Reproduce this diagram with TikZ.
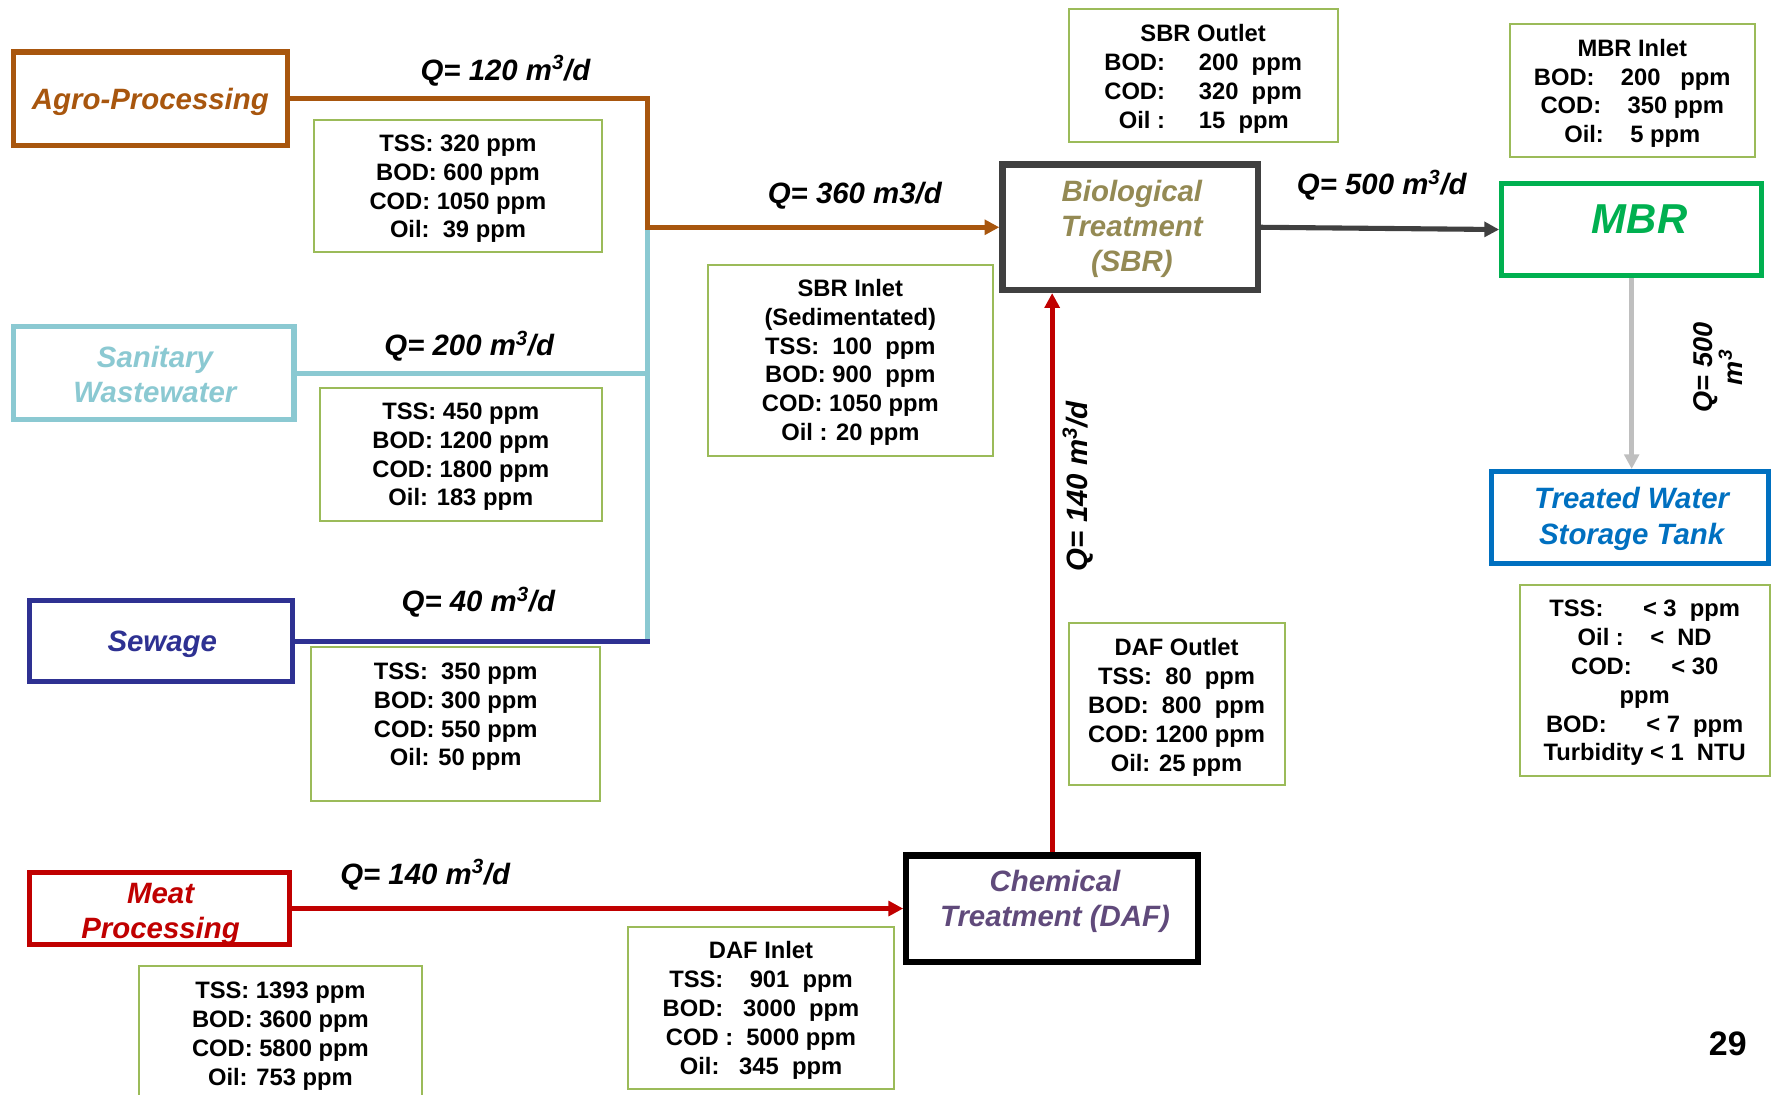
\documentclass[tikz,border=0pt]{standalone}
\usepackage{fontspec}
\setmainfont{Liberation Sans}
\usetikzlibrary{arrows.meta}
\pgfdeclarelayer{background}
\pgfdeclarelayer{lines}
\pgfsetlayers{background,lines,main}
\definecolor{cbrown}{RGB}{168,86,14}
\definecolor{csan}{RGB}{139,201,210}
\definecolor{cnavy}{RGB}{46,49,146}
\definecolor{cred}{RGB}{192,0,0}
\definecolor{colive}{RGB}{148,138,84}
\definecolor{cdark}{RGB}{64,64,64}
\definecolor{cpurple}{RGB}{96,74,123}
\definecolor{cgreen}{RGB}{0,176,80}
\definecolor{cblueb}{RGB}{0,112,192}
\definecolor{cgrayarr}{RGB}{191,191,191}
\definecolor{specgreen}{RGB}{155,187,89}
\newcommand\specfnt{\fontsize{21}{25.5}\selectfont\bfseries}
\newcommand\titlefnt{\fontsize{26}{31}\selectfont\bfseries\itshape}
\newcommand\qfnt{\fontsize{26}{31}\selectfont\bfseries\itshape}
\newcommand\mbrfnt{\fontsize{37}{40}\selectfont\bfseries\itshape}
\tikzset{
  srcbox/.style={draw, line width=4.5pt, inner sep=0pt},
  titletext/.style={inner sep=0pt, align=center, font=\titlefnt},
  specbox/.style={draw=specgreen, line width=1.8pt, inner sep=0pt},
  spectext/.style={inner sep=0pt, align=center, font=\specfnt},
  qlab/.style={inner sep=0pt, align=center, font=\qfnt},
  flow/.style={line width=4.5pt},
  tip/.style={-{Triangle[length=13pt,width=13pt]}}
}
\begin{document}
\begin{tikzpicture}[x=1pt,y=-1pt]
\begin{pgfonlayer}{background}
\fill[white] (0,0) rectangle (1568,968);
\end{pgfonlayer}
\useasboundingbox (0,0) rectangle (1568,968);

% main process boxes
\node[srcbox, draw=cbrown, minimum width=242pt, minimum height=83pt] (agro) at (133,87.5) {};
\node[titletext, text=cbrown] (agrotxt) at (133,90.5) {Agro-Processing};
\node[srcbox, draw=csan, minimum width=248pt, minimum height=82pt] (san) at (136,330) {};
\node[titletext, text=csan] (santxt) at (137,331.5) {Sanitary\\Wastewater};
\node[srcbox, draw=cnavy, minimum width=233pt, minimum height=72pt] (sew) at (142.5,567) {};
\node[titletext, text=cnavy] (sewtxt) at (143.5,570) {Sewage};
\node[srcbox, draw=cred, minimum width=230pt, minimum height=63pt] (meat) at (141,803.5) {};
\node[titletext, text=cred] (meattxt) at (142,808) {Meat\\Processing};
\node[srcbox, line width=5.5pt, draw=cdark, minimum width=226pt, minimum height=111pt] (sbr) at (999.5,201) {};
\node[titletext, text=colive] (sbrtxt) at (1001,202.5) {Biological\\Treatment\\(SBR)};
\node[srcbox, line width=5.5pt, draw=black, minimum width=258pt, minimum height=94pt] (daf) at (930.5,803.5) {};
\node[titletext, text=cpurple] (daftxt) at (933,797) {Chemical\\Treatment (DAF)};
\node[srcbox, draw=cgreen, minimum width=230pt, minimum height=82pt] (mbr) at (1443,203) {};
\node[inner sep=0pt, font=\mbrfnt, text=cgreen] (mbrtxt) at (1450,194) {MBR};
\node[srcbox, draw=cblueb, minimum width=245pt, minimum height=81pt] (tank) at (1441.5,457.5) {};
\node[titletext, text=cblueb, font=\fontsize{26}{32}\selectfont\bfseries\itshape] (tanktxt) at (1443,459) {Treated Water\\Storage Tank};

% junction points
\coordinate (jtop) at (573,87.5);
\coordinate (jsan) at (573,330);
\coordinate (jsew) at (573,567);
\coordinate (jmid) at (573,201);

\begin{pgfonlayer}{lines}
\draw[flow, csan, line cap=rect] (san.east) -- (jsan);
\draw[flow, csan, line cap=rect] (jmid) -- (jsew);
\draw[flow, cnavy, line cap=rect] (sew.east) -- (jsew);
\draw[flow, cbrown, tip] (agro.east) -- (jtop) -- (jmid) -- (sbr.west);
\draw[flow, cred, tip] (meat.east) -- (daf.west);
\draw[flow, cred, tip] (daf.north) -- (daf.north |- sbr.south);
\draw[flow, cdark, tip] (sbr.east) -- (mbr.west);
\draw[flow, cgrayarr, tip] (mbr.south) -- (mbr.south |- tank.north);
\end{pgfonlayer}

% flow labels
\node[qlab] (q120) at (447,62.5) {Q= 120 m\textsuperscript{3}/d};
\node[qlab] (q360) at (756,173.5) {Q= 360 m3/d};
\node[qlab] (q200) at (415,306.5) {Q= 200 m\textsuperscript{3}/d};
\node[qlab] (q40) at (423,532.5) {Q= 40 m\textsuperscript{3}/d};
\node[qlab] (q500) at (1222,163.5) {Q= 500 m\textsuperscript{3}/d};
\node[qlab] (q140) at (376,773.5) {Q= 140 m\textsuperscript{3}/d};
\node[qlab, rotate=90] (q140v) at (953,430) {Q= 140 m\textsuperscript{3}/d};
\node[qlab, rotate=90, font=\fontsize{24}{25}\selectfont\bfseries\itshape] (q500v) at (1519,325) {Q= 500\\m\textsuperscript{3}};

% specification boxes
\node[specbox, minimum width=254pt, minimum height=117pt] (s1box) at (405,164.5) {};
\node[spectext] (s1) at (405,167) {TSS: 320 ppm\\BOD: 600 ppm\\COD: 1050 ppm\\Oil:~~39 ppm};
\node[specbox, minimum width=249pt, minimum height=118pt] (s2box) at (407.5,402) {};
\node[spectext] (s2) at (407.5,404) {TSS: 450 ppm\\BOD: 1200 ppm\\COD: 1800 ppm\\Oil: 183 ppm};
\node[specbox, minimum width=256pt, minimum height=136pt] (s3box) at (403,640) {};
\node[spectext] (s3) at (403,634) {TSS:~~350 ppm\\BOD: 300 ppm\\COD: 550 ppm\\Oil: 50 ppm};
\node[specbox, minimum width=252pt, minimum height=169pt] (sbrinbox) at (752,318.5) {};
\node[spectext] (sbrin) at (752,320.5) {SBR Inlet\\(Sedimentated)\\TSS:~~100~~ppm\\BOD: 900~~ppm\\COD: 1050 ppm\\Oil : 20 ppm};
\node[specbox, minimum width=238pt, minimum height=118pt] (sbroutbox) at (1064,67) {};
\node[spectext] (sbrout) at (1064,71.5) {SBR Outlet\\
  \begin{tabular}[t]{@{}r@{\hspace{30pt}}l@{}}BOD: & 200~~ppm\\COD: & 320~~ppm\\Oil : & 15~~ppm\end{tabular}};
\node[specbox, minimum width=217pt, minimum height=118pt] (mbrinbox) at (1443.5,80) {};
\node[spectext] (mbrin) at (1443.5,82.5) {MBR Inlet\\BOD:~~~~200~~~ppm\\COD:~~~~350 ppm\\Oil:~~~~5 ppm};
\node[specbox, minimum width=221pt, minimum height=169pt] (twbox) at (1454.5,601.5) {};
\node[spectext] (tw) at (1454.5,604) {TSS:~~~~~~\textless{} 3~~ppm\\Oil :~~~~\textless{}~~ND\\COD:~~~~~~\textless{} 30\\ppm\\BOD:~~~~~~\textless{} 7~~ppm\\Turbidity \textless{} 1~~NTU};
\node[specbox, minimum width=191pt, minimum height=143pt] (dafoutbox) at (1040.5,622.5) {};
\node[spectext] (dafout) at (1040.5,625.5) {DAF Outlet\\TSS:~~80~~ppm\\BOD:~~800~~ppm\\COD: 1200 ppm\\Oil: 25 ppm};
\node[specbox, minimum width=250pt, minimum height=125pt] (meatbox) at (248,916.5) {};
\node[spectext] (meatspec) at (248,916.5) {TSS: 1393 ppm\\BOD: 3600 ppm\\COD: 5800 ppm\\Oil: 753 ppm};
\node[specbox, minimum width=236pt, minimum height=143pt] (dafinbox) at (673,891.5) {};
\node[spectext] (dafin) at (673,893.5) {DAF Inlet\\TSS:~~~~901~~ppm\\BOD:~~~3000~~ppm\\COD :~~5000 ppm\\Oil:~~~345~~ppm};

\node[inner sep=0pt, font=\fontsize{30}{36}\selectfont\bfseries] (pnum) at (1528,923) {29};
\end{tikzpicture}
\end{document}
